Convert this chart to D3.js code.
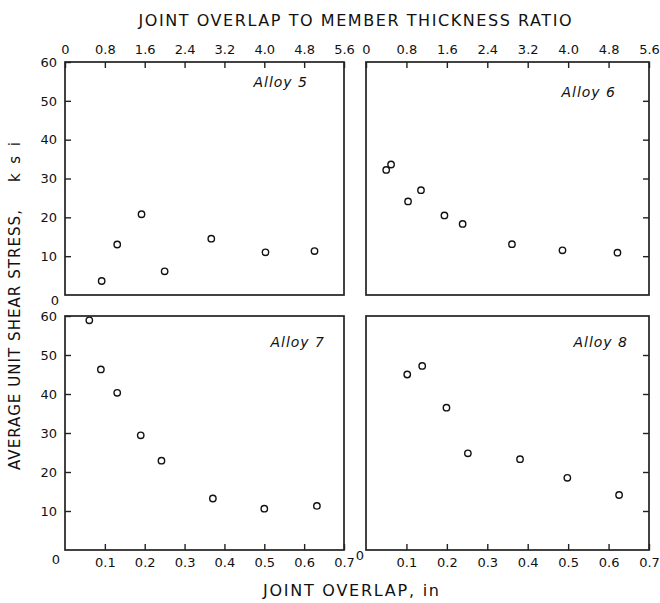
<!DOCTYPE html>
<html>
<meta charset='utf-8'>
<title>Joint overlap vs shear stress</title>
<style>
  body { margin: 0; background: #fff; }
  text { font-family: 'DejaVu Sans', sans-serif; fill: #111; }
  .tick line { stroke: #222; stroke-width: 1.4; }
  .tick text { font-size: 13px; }
  .frame { fill: none; stroke: #222; stroke-width: 1.7; }
  .pt { fill: #fff; stroke: #111; stroke-width: 1.4; }
</style>
<script src='https://d3js.org/d3.v7.min.js'></script>
<body>
<script>

  // joint overlap (in) and average unit shear stress (ksi) per alloy
  var alloy5X = [0.092, 0.131, 0.192, 0.25, 0.367, 0.503, 0.626];
  var alloy5Y = [3.6, 13, 20.8, 6.1, 14.5, 11, 11.3];

  var alloy6X = [0.05, 0.062, 0.104, 0.136, 0.194, 0.239, 0.361, 0.486, 0.622];
  var alloy6Y = [32.2, 33.6, 24.1, 27, 20.5, 18.3, 13.1, 11.5, 10.9];

  var alloy7X = [0.061, 0.09, 0.131, 0.19, 0.242, 0.371, 0.5, 0.632];
  var alloy7Y = [58.9, 46.3, 40.3, 29.4, 22.9, 13.2, 10.6, 11.3];

  var alloy8X = [0.102, 0.139, 0.199, 0.252, 0.381, 0.498, 0.626];
  var alloy8Y = [45, 47.2, 36.5, 24.8, 23.3, 18.5, 14.1];

  var alloyNames = ['Alloy 5', 'Alloy 6', 'Alloy 7', 'Alloy 8'];

  // tick values
  var overlapTicks = [0.1, 0.2, 0.3, 0.4, 0.5, 0.6, 0.7];
  var ratioTicks = [0, 0.8, 1.6, 2.4, 3.2, 4.0, 4.8, 5.6];
  var stressTicks = [10, 20, 30, 40, 50, 60];

  var W = 660, H = 603;
  var svg = d3.select('body').append('svg')
      .attr('width', W)
      .attr('height', H);

  // panel boxes: col 0/1, row 0/1
  var cols = [[65, 344], [366, 649]];
  var rows = [[62, 295], [316, 550]];

  var panels = [
    {name: alloyNames[0], xs: alloy5X, ys: alloy5Y, c: 0, r: 0, lab: [36, 25]},
    {name: alloyNames[1], xs: alloy6X, ys: alloy6Y, c: 1, r: 0, lab: [33, 35]},
    {name: alloyNames[2], xs: alloy7X, ys: alloy7Y, c: 0, r: 1, lab: [19, 31]},
    {name: alloyNames[3], xs: alloy8X, ys: alloy8Y, c: 1, r: 1, lab: [21, 31]}
  ];

  panels.forEach(function(p) {
    var x0 = cols[p.c][0], x1 = cols[p.c][1];
    var y0 = rows[p.r][0], y1 = rows[p.r][1];

    var x = d3.scaleLinear().domain([0, 0.7]).range([x0, x1]);
    var xr = d3.scaleLinear().domain([0, 5.6]).range([x0, x1]);
    var y = d3.scaleLinear().domain([0, 60]).range([y1, y0]);

    var g = svg.append('g');

    // top axis: overlap / thickness ratio
    if (p.r == 0) {
      g.append('g')
        .attr('transform', 'translate(0,' + y0 + ')')
        .call(d3.axisTop(xr).tickValues(ratioTicks).tickSize(-6).tickPadding(8)
          .tickFormat(function(d) { return d === 0 ? '0' : d3.format('.1f')(d); }))
        .call(function(a) { a.select('.domain').remove(); });
    }

    // bottom axis: joint overlap
    if (p.r == 1) {
      g.append('g')
        .attr('transform', 'translate(0,' + y1 + ')')
        .call(d3.axisBottom(x).tickValues(overlapTicks).tickSize(-6).tickPadding(8)
          .tickFormat(d3.format('.1f')))
        .call(function(a) { a.select('.domain').remove(); });
      g.append('text')
        .attr('x', x(0) - (p.c == 0 ? 9 : 6))
        .attr('y', y1 + (p.c == 0 ? 14 : 10))
        .style('text-anchor', 'middle')
        .style('font-size', '13px')
        .text('0');
    }

    if (p.c == 0) {
      g.append('g')
        .attr('transform', 'translate(' + x0 + ',0)')
        .call(d3.axisLeft(y).tickValues(stressTicks).tickSize(-6).tickPadding(8))
        .call(function(a) { a.select('.domain').remove(); });
      if (p.r == 0) {
        g.append('text')
          .attr('x', x0 - 10)
          .attr('y', y1 + 10)
          .style('text-anchor', 'middle')
          .style('font-size', '13px')
          .text('0');
      }
    } else {
      g.append('g')
        .attr('transform', 'translate(' + x1 + ',0)')
        .call(d3.axisRight(y).tickValues(stressTicks.slice(0, 5)).tickSize(-6).tickFormat(''))
        .call(function(a) { a.select('.domain').remove(); });
    }

    g.append('rect')
      .attr('class', 'frame')
      .attr('x', x0)
      .attr('y', y0)
      .attr('width', x1 - x0)
      .attr('height', y1 - y0);

    g.append('text')
      .attr('x', x1 - p.lab[0])
      .attr('y', y0 + p.lab[1])
      .style('text-anchor', 'end')
      .style('font-size', '14px')
      .style('font-style', 'italic')
      .style('letter-spacing', '1px')
      .text(p.name);

    g.selectAll('circle')
      .data(p.xs.map(function(d, i) { return [d, p.ys[i]]; }))
      .enter().append('circle')
      .attr('class', 'pt')
      .attr('r', 3.2)
      .attr('cx', function(d) { return x(d[0]); })
      .attr('cy', function(d) { return y(d[1]); });
  });

  // axis titles
  svg.append('text')
    .attr('x', 355)
    .attr('y', 26)
    .attr('text-anchor', 'middle')
    .attr('textLength', 433)
    .attr('lengthAdjust', 'spacing')
    .style('font-size', '16px')
    .text('JOINT OVERLAP TO MEMBER THICKNESS RATIO');

  svg.append('text')
    .attr('x', 351)
    .attr('y', 596)
    .attr('text-anchor', 'middle')
    .attr('textLength', 176)
    .attr('lengthAdjust', 'spacing')
    .style('font-size', '16px')
    .text('JOINT OVERLAP, in');

  svg.append('text')
    .attr('transform', 'translate(20,340) rotate(-90)')
    .attr('text-anchor', 'middle')
    .attr('textLength', 260)
    .attr('lengthAdjust', 'spacing')
    .style('font-size', '15px')
    .text('AVERAGE UNIT SHEAR STRESS,');

  svg.append('text')
    .attr('transform', 'translate(20,162) rotate(-90)')
    .attr('text-anchor', 'middle')
    .attr('textLength', 40)
    .attr('lengthAdjust', 'spacing')
    .style('font-size', '15px')
    .text('ksi');

</script>
</body>
</html>
